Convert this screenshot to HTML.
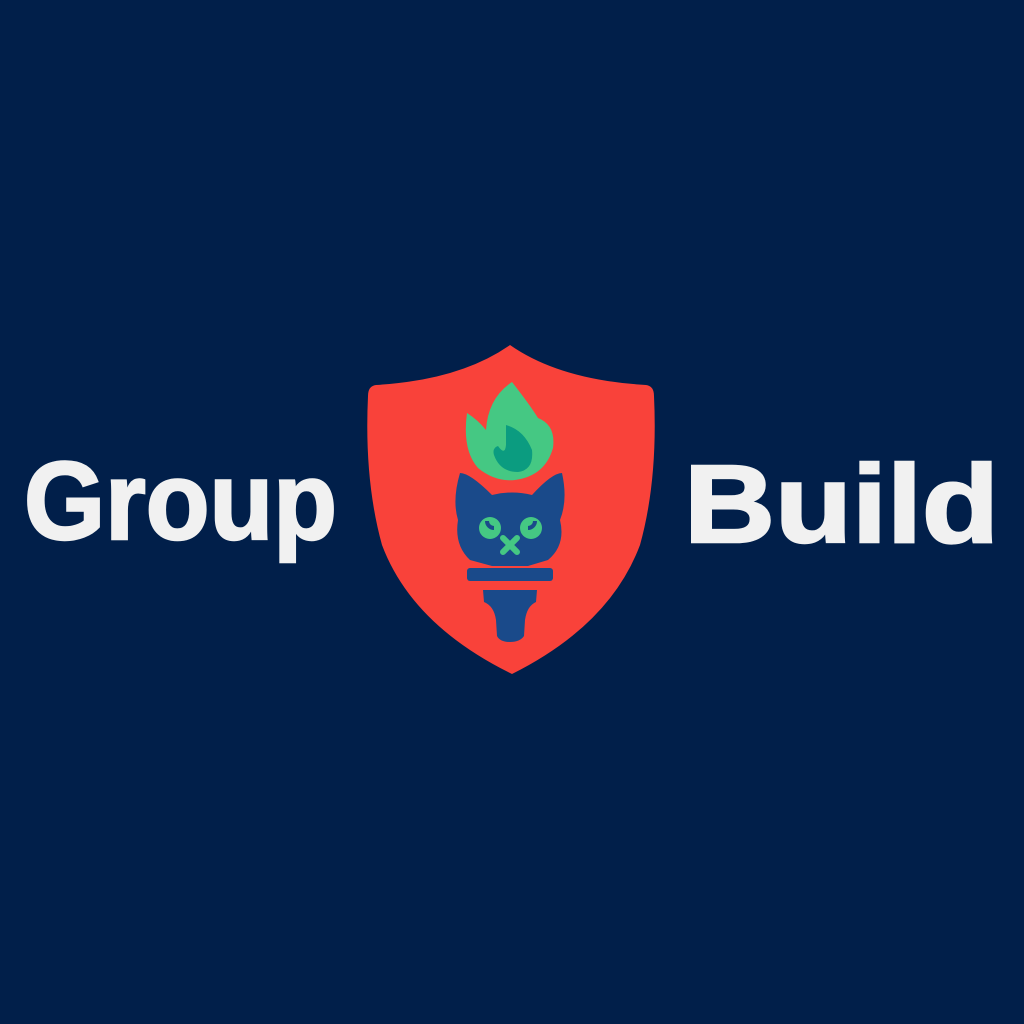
<!DOCTYPE html>
<html><head><meta charset="utf-8"><style>
html,body{margin:0;padding:0;background:#011f4a;}
svg{display:block}
</style></head><body>
<svg width="1024" height="1024" viewBox="0 0 1024 1024">
<rect width="1024" height="1024" fill="#011f4a"/>
<text x="24" y="539" font-family="Liberation Sans, sans-serif" font-weight="bold" font-size="110" fill="#f1f1f1" stroke="#f1f1f1" stroke-width="2.5" textLength="313" lengthAdjust="spacingAndGlyphs">Group</text>
<text x="684" y="542" font-family="Liberation Sans, sans-serif" font-weight="bold" font-size="110" fill="#f1f1f1" stroke="#f1f1f1" stroke-width="2.5" textLength="315" lengthAdjust="spacingAndGlyphs">Build</text>
<g>
<path d="M510 345 Q560 380 646 385 Q654 386 654 396 Q658 480 640 545 Q610 625 512 674 Q412 625 382 545 Q364 480 368 396 Q368 386 376 385 Q460 380 510 345 Z" fill="#f9423a"/>
<path d="M512 382 Q488 398 486 430 Q478 420 467 413 Q462 450 478 468 Q495 482 515 480 Q545 476 553 448 Q556 425 538 418 Q530 405 512 382 Z" fill="#45c883"/>
<path d="M506 425 Q524 430 532 450 Q534 470 518 472 Q500 472 494 455 Q492 448 498 446 Q505 456 506 445 Z" fill="#0b9c80"/>
<path d="M460 473 Q470 473 492 495 Q512 490 532 495 Q552 473 562 473 Q568 500 560 520 Q566 545 548 560 L528 566 L492 566 L470 560 Q454 545 458 520 Q452 500 460 473 Z" fill="#1a4a8a"/>
<rect x="467" y="568" width="86" height="13" rx="3" fill="#1a4a8a"/>
<path d="M483 590 L537 590 L536 602 Q527 606 525 620 L524 636 Q520 642 510 642 Q500 642 497 636 L496 620 Q494 606 484 602 Z" fill="#1a4a8a"/>
<circle cx="490" cy="528" r="11" fill="#45c883"/>
<circle cx="531" cy="528" r="11" fill="#45c883"/>
<path d="M487 521 A7 7 0 0 0 494 528" stroke="#1a4a8a" stroke-width="4" fill="none"/>
<path d="M528 528 A7 7 0 0 0 535 521" stroke="#1a4a8a" stroke-width="4" fill="none"/>
<path d="M503 538 L517 552 M517 538 L503 552" stroke="#45c883" stroke-width="6" stroke-linecap="round"/>
</g>
</svg>
</body></html>
